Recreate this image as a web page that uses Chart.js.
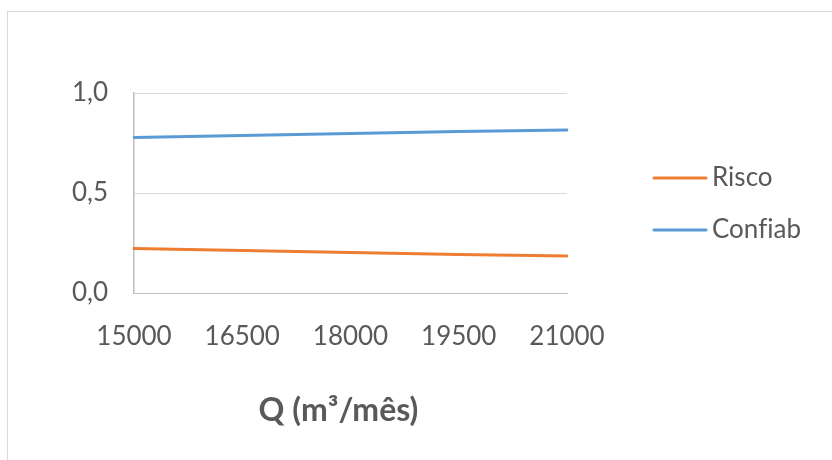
<!DOCTYPE html>
<html>
<head>
<meta charset="utf-8">
<script src="https://cdn.jsdelivr.net/npm/chart.js@4/dist/chart.umd.min.js"></script>
<style>
  html, body { margin: 0; padding: 0; background: #fff; }
  #wrap { position: relative; width: 832px; height: 460px; overflow: hidden; }
  #frame { position: absolute; left: 7px; top: 11px; width: 900px; height: 500px;
           border-left: 1px solid #d9d9d9; border-top: 1px solid #d9d9d9; }
  canvas { position: absolute; left: 0; top: 0; }
</style>
</head>
<body>
<div id="wrap">
  <div id="frame"></div>
  <canvas id="c" width="832" height="460"></canvas>
</div>
<script>
// Vazão mensal (m³/mês) e índices de risco / confiabilidade
const categories = ['15000', '16500', '18000', '19500', '21000'];
const risco = [0.222, 0.212, 0.203, 0.193, 0.185];
const confiab = [0.778, 0.788, 0.797, 0.807, 0.815];
const seriesNames = ['Risco', 'Confiab'];
const xTitle = 'Q (m³/mês)';

const FONT = 'Lato, "Open Sans", sans-serif';
const TEXT = '#595959';

// legend on the right, line swatch + label
const sideLegend = {
  id: 'sideLegend',
  afterDraw(chart) {
    const ctx = chart.ctx;
    const ys = [178, 230];
    ctx.save();
    chart.data.datasets.forEach((ds, i) => {
      const y = ys[i];
      ctx.strokeStyle = ds.borderColor;
      ctx.lineWidth = 3;
      ctx.lineCap = 'round';
      ctx.beginPath();
      ctx.moveTo(654, y);
      ctx.lineTo(706, y);
      ctx.stroke();
      ctx.fillStyle = TEXT;
      ctx.font = '26px ' + FONT;
      ctx.letterSpacing = '0.01px'; // keeps "f" and "i" as separate glyphs
      ctx.textAlign = 'left';
      ctx.textBaseline = 'middle';
      ctx.fillText(ds.label, 712, y);
    });
    ctx.restore();
  }
};

// bold axis title under the category labels
const axisTitle = {
  id: 'axisTitle',
  afterDraw(chart) {
    const ctx = chart.ctx;
    const a = chart.chartArea;
    ctx.save();
    ctx.fillStyle = TEXT;
    ctx.font = 'bold 32px ' + FONT;
    ctx.textAlign = 'center';
    ctx.textBaseline = 'middle';
    ctx.fillText(xTitle, (a.left + a.right) / 2 - 12, 411);
    ctx.restore();
  }
};

new Chart(document.getElementById('c'), {
  type: 'line',
  data: {
    labels: categories,
    datasets: [
      { label: seriesNames[0], data: risco, borderColor: '#ED7D31', backgroundColor: '#ED7D31' },
      { label: seriesNames[1], data: confiab, borderColor: '#5B9BD5', backgroundColor: '#5B9BD5' }
    ]
  },
  options: {
    responsive: false,
    animation: false,
    layout: { padding: { left: 0, right: 265, top: 93, bottom: 0 } },
    elements: {
      line: { borderWidth: 3, tension: 0, borderCapStyle: 'round' },
      point: { radius: 0, hoverRadius: 0 }
    },
    plugins: { legend: { display: false }, tooltip: { enabled: false } },
    scales: {
      x: {
        offset: false,
        afterFit(s) { s.height = 167; },
        grid: { display: false, drawTicks: false },
        border: { display: true, color: '#bfbfbf', width: 1 },
        ticks: { color: TEXT, font: { family: FONT, size: 26 }, padding: 28, maxRotation: 0, autoSkip: false }
      },
      y: {
        min: 0, max: 1,
        afterFit(s) { s.width = 134; },
        grid: { color: '#d9d9d9', lineWidth: 1, drawTicks: false },
        border: { display: true, color: '#bfbfbf', width: 1.5 },
        ticks: {
          stepSize: 0.5,
          color: TEXT,
          font: { family: FONT, size: 26 },
          padding: 26,
          callback: v => v.toFixed(1).replace('.', ',')
        }
      }
    }
  },
  plugins: [sideLegend, axisTitle]
});
</script>
</body>
</html>
